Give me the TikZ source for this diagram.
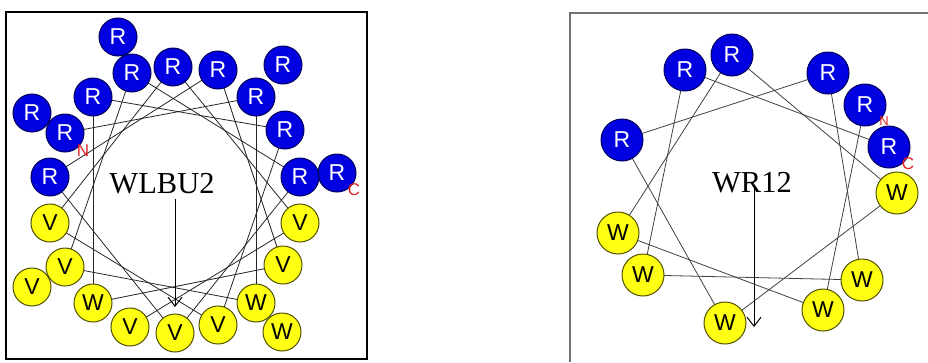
\documentclass[tikz,border=0pt]{standalone}
\usepackage{fontspec}
\setmainfont{Liberation Serif}
\setsansfont{Liberation Sans}
\usetikzlibrary{arrows.meta,backgrounds}
\definecolor{argblue}{RGB}{0,0,225}
\definecolor{argedge}{RGB}{0,0,90}
\definecolor{hphyellow}{RGB}{255,255,20}
\definecolor{hphedge}{RGB}{80,80,0}
\definecolor{endred}{RGB}{225,35,35}
\begin{document}
\begin{tikzpicture}[x=1pt,y=-1pt,
	res/.style={circle,inner sep=0pt,line width=1pt,font=\sffamily\fontsize{23}{23}\selectfont},
	resR/.style={res,fill=argblue,draw=argedge,text=white},
	resV/.style={res,fill=hphyellow,draw=hphedge,text=black},
	resW/.style={resV},
	bond/.style={line width=0.8pt,black!85},
	moment/.style={line width=1pt,-{Straight Barb[length=9pt,width=14pt]}},
	term/.style={text=endred,inner sep=0pt,font=\sffamily\fontsize{17}{17}\selectfont},
	wname/.style={anchor=base,inner sep=0pt,font=\fontsize{30.5}{32}\selectfont}]
	\useasboundingbox (0,0) rectangle (928,362);
	% WLBU2, outer turn first so the inner residues lie on top
	\foreach \n/\x/\y/\t in {24/337/173/R,23/118/37/R,22/32/287/V,21/282/332/W,20/283/65/R,19/32/113/R,
		18/130/327/V,17/300/223/V,16/173/67/R,15/50/223/V,14/218/325/V,13/285/130/R,
		12/93/97/R,11/93/303/W,10/283/265/V,9/218/70/R,8/50/177/R,7/175/333/V,
		6/300/177/R,5/132/73/R,4/65/267/V,3/256/303/W,2/256/97/R,1/65/133/R}
	\node[res\t,minimum size=38pt] (l\n) at (\x,\y) {\t};
	\begin{scope}[on background layer]
	\foreach \i [evaluate=\i as \j using int(\i+1)] in {1,...,17}
	\draw[bond] (l\i.center) -- (l\j.center);
	\end{scope}
	\node[term] (lN) at (83,151) {N};
	\node[term] (lC) at (354,190) {C};
	\node[wname] (lname) at (162,193) {WLBU2};
	\coordinate (ltail) at (175,199);
	\coordinate (lhead) at (175,307);
	\draw[moment] (ltail) -- (lhead);
	\draw[line width=2pt] (6,12) rectangle (367,359);
	% WR12
	\foreach \n/\x/\y/\t in {1/865/105/R,2/823/310/W,3/618/233/W,4/732/55/R,5/897/193/W,6/725/323/W,
		7/622/140/R,8/828/73/R,9/862/280/W,10/643/275/W,11/685/70/R,12/889/147/R}
	\node[res\t,minimum size=42pt] (r\n) at (\x,\y) {\t};
	\begin{scope}[on background layer]
	\foreach \i [evaluate=\i as \j using int(\i+1)] in {1,...,11}
	\draw[bond,black!75] (r\i.center) -- (r\j.center);
	\end{scope}
	\node[term,font=\sffamily\fontsize{13}{13}\selectfont] (rN) at (884,121) {N};
	\node[term] (rC) at (908,164) {C};
	\node[wname] (rname) at (752,192) {WR12};
	\coordinate (rtail) at (754,186);
	\coordinate (rhead) at (754,327);
	\draw[moment] (rtail) -- (rhead);
	\draw[black!55,line width=1.5pt] (570,362) -- (570,13) -- (928,13);
\end{tikzpicture}
\end{document}
